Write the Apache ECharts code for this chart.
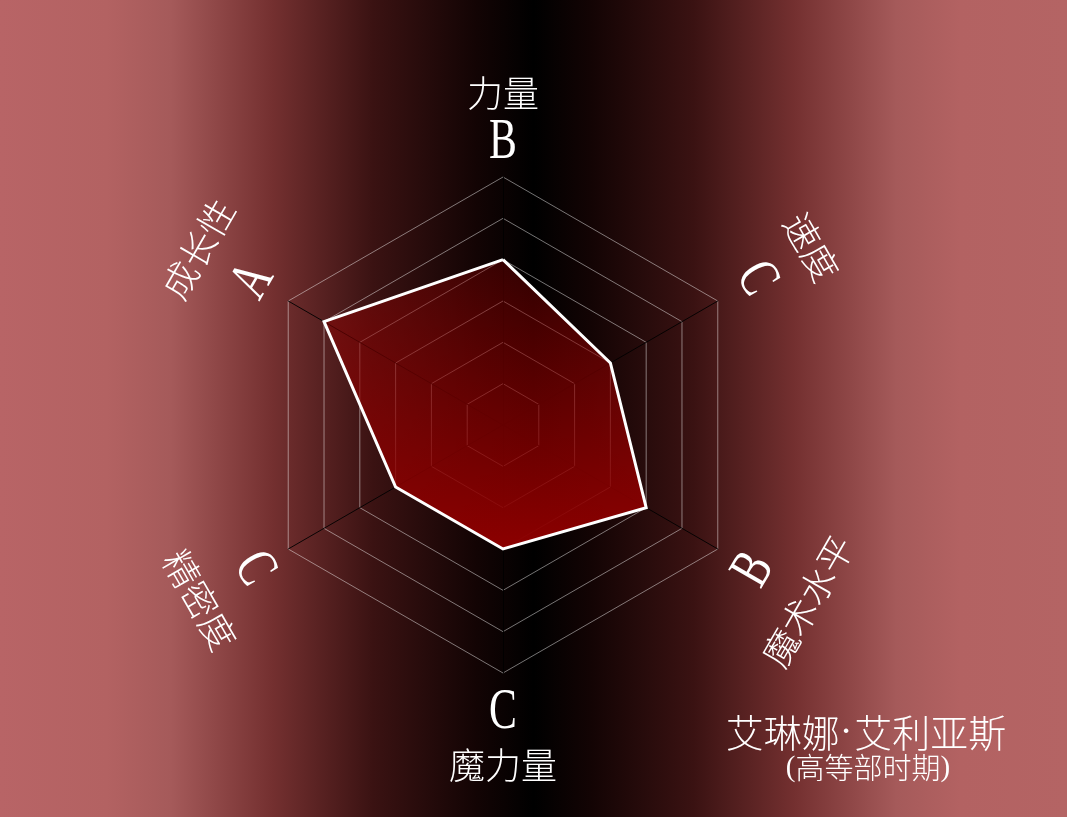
<!DOCTYPE html>
<html>
<head>
<meta charset="utf-8">
<script src="https://cdn.jsdelivr.net/npm/echarts@6/dist/echarts.min.js"></script>
<style>
html,body{margin:0;padding:0;width:1067px;height:817px;overflow:hidden;}
#main{width:1067px;height:817px;}
</style>
</head>
<body>
<div id="main"></div>
<script>
// ---- data ----
var indicators = ['力量', '成长性', '精密度', '魔力量', '魔术水平', '速度']; // counter-clockwise from top
var grades = ['B', 'A', 'C', 'C', 'B', 'C'];
var values = [4, 5, 3, 3, 4, 3];
var maxValue = 6;
var titleParts = ['艾琳娜', '·', '艾利亚斯'];
var subtitleText = '(高等部时期)';

// ---- layout ----
var cx = 503, cy = 425, R = 248;
var gradeDist = [282, 288, 288, 288, 290, 292];
var nameDist = [332, 352, 350, 340, 352, 356];
var cjk = '"Noto Sans CJK SC", "Noto Sans", sans-serif';
var serif = '"Liberation Serif", "DejaVu Serif", serif';

var chart = echarts.init(document.getElementById('main'), null, {renderer: 'canvas'});

var graphics = [];
var n = indicators.length;
for (var i = 0; i < n; i++) {
  var deg = i * 360 / n;                 // counter-clockwise from top
  var rad = (90 + deg) * Math.PI / 180;
  var ux = Math.cos(rad), uy = -Math.sin(rad);
  var rot = deg;
  if (rot > 90 && rot < 270) rot -= 180;
  if (rot >= 270) rot -= 360;
  var rr = rot * Math.PI / 180;
  graphics.push({
    type: 'text', x: cx + ux * nameDist[i], y: cy + uy * nameDist[i], rotation: rr,
    style: {text: indicators[i], fill: '#fff', font: '300 36px ' + cjk, align: 'center', verticalAlign: 'middle'}
  });
  graphics.push({
    type: 'text', x: cx + ux * gradeDist[i], y: cy + uy * gradeDist[i], rotation: rr, scaleX: 0.72,
    style: {text: grades[i], fill: '#fff', font: '58px ' + serif, align: 'center', verticalAlign: 'middle'}
  });
}
graphics.push({
  type: 'text', x: 866, y: 733,
  style: {
    text: '{a|' + titleParts[0] + '}{b|' + titleParts[1] + '}{a|' + titleParts[2] + '}',
    align: 'center', verticalAlign: 'middle',
    rich: {
      a: {fill: '#fff', fontSize: 38, fontFamily: cjk, fontWeight: 300},
      b: {fill: '#fff', fontSize: 38, fontFamily: serif, padding: [0, 2, 0, 0]}
    }
  }
});
graphics.push({
  type: 'text', x: 868, y: 768,
  style: {
    text: '{p|(}{a|' + subtitleText.slice(1, -1) + '}{p|)}',
    align: 'center', verticalAlign: 'middle',
    rich: {
      a: {fill: '#fff', fontSize: 29, fontFamily: cjk, fontWeight: 300},
      p: {fill: '#fff', fontSize: 29, fontFamily: serif}
    }
  }
});

var option = {
  animation: false,
  backgroundColor: new echarts.graphic.LinearGradient(0, 0, 1, 0, [
    {offset: 0, color: '#b86466'},
    {offset: 0.1, color: '#b36262'},
    {offset: 0.16, color: '#a55a5a'},
    {offset: 0.255, color: '#743030'},
    {offset: 0.35, color: '#3a1212'},
    {offset: 0.446, color: '#130404'},
    {offset: 0.5, color: '#000000'},
    {offset: 0.554, color: '#130404'},
    {offset: 0.65, color: '#3a1212'},
    {offset: 0.745, color: '#743030'},
    {offset: 0.84, color: '#a55a5a'},
    {offset: 0.9, color: '#b36262'},
    {offset: 1, color: '#b46464'}
  ]),
  radar: {
    center: [cx, cy],
    radius: R,
    startAngle: 90,
    splitNumber: 6,
    shape: 'polygon',
    indicator: indicators.map(function (name) { return {name: name, min: 0, max: maxValue}; }),
    axisName: {show: false},
    splitArea: {show: false},
    splitLine: {lineStyle: {color: 'rgba(255,255,255,0.45)', width: 1}},
    axisLine: {lineStyle: {color: 'rgba(0,0,0,0.9)', width: 1}},
    axisTick: {show: false},
    axisLabel: {show: false}
  },
  series: [{
    type: 'radar',
    symbol: 'none',
    z: 2,
    lineStyle: {width: 0, opacity: 0},
    areaStyle: {
      opacity: 1,
      color: new echarts.graphic.LinearGradient(0, 0, 0, 1, [
        {offset: 0, color: 'rgba(140,0,0,0.35)'},
        {offset: 1, color: 'rgba(140,0,0,1)'}
      ])
    },
    data: [{value: values, name: titleParts.join('')}]
  }, {
    type: 'radar',
    symbol: 'none',
    z: 3,
    lineStyle: {color: '#ffffff', width: 3, opacity: 1, join: 'miter'},
    data: [{value: values, name: titleParts.join('')}]
  }],
  graphic: graphics
};
chart.setOption(option);
</script>
</body>
</html>
